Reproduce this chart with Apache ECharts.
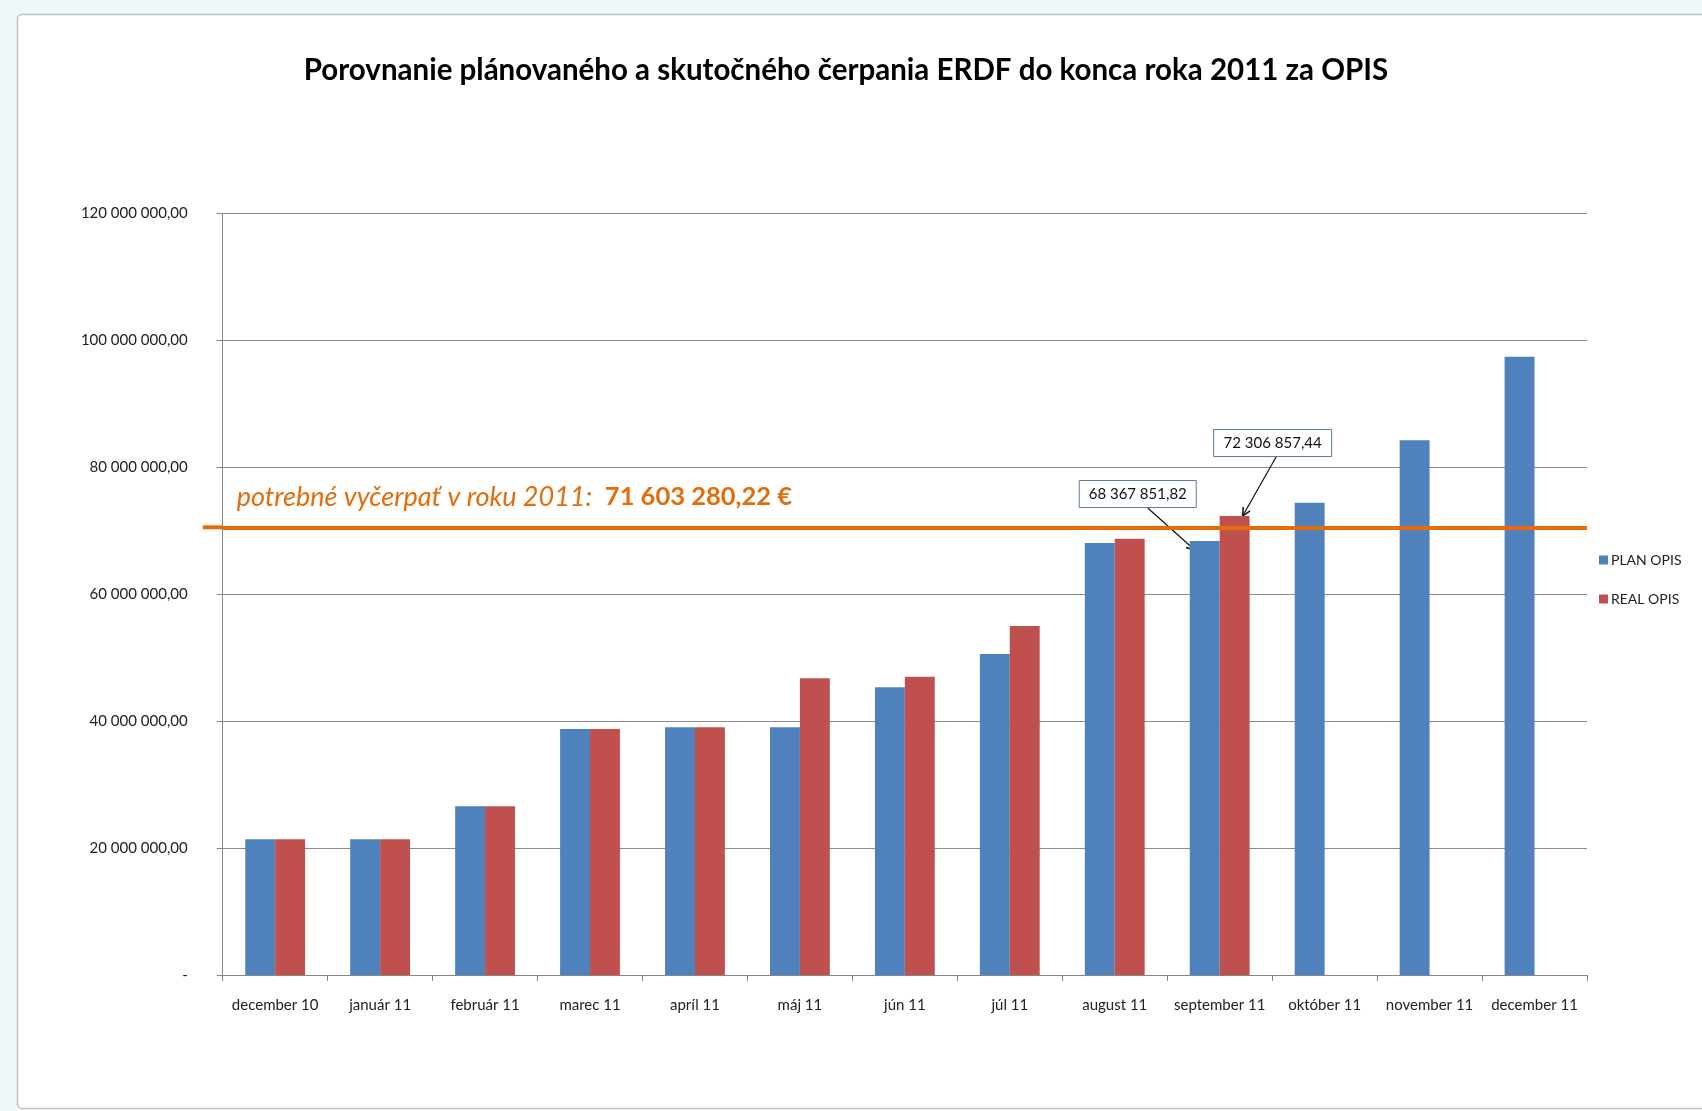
<!DOCTYPE html>
<html>
<head>
<meta charset="utf-8">
<script src="https://cdn.jsdelivr.net/npm/echarts@6/dist/echarts.min.js"></script>
<style>
html,body{margin:0;padding:0;background:#fff;}
#main{width:1702px;height:1111px;}
</style>
</head>
<body>
<div id="main"></div>
<script>
const categories = ['december 10','január 11','február 11','marec 11','apríl 11','máj 11','jún 11','júl 11','august 11','september 11','október 11','november 11','december 11'];
const planOpis = [21380000, 21380000, 26570000, 38760000, 39020000, 39020000, 45320000, 50570000, 68060000, 68367851.82, 74410000, 84240000, 97410000];
const realOpis = [21380000, 21380000, 26570000, 38760000, 39020000, 46740000, 47000000, 54980000, 68740000, 72306857.44, null, null, null];
const yTicks = [0, 20000000, 40000000, 60000000, 80000000, 100000000, 120000000];
const targetLineValue = 70530000;
const targetLabelText = 'potrebné vyčerpať v roku 2011:';
const targetLabelAmount = '71 603 280,22 €';
const calloutIndex = 9;

const FONT = 'Lato, "Noto Sans", sans-serif';

function fmt(v){
  if (v === 0) return '-';
  const parts = v.toFixed(2).split('.');
  const intPart = parts[0].replace(/\B(?=(\d{3})+(?!\d))/g, ' ');
  return intPart + ',' + parts[1];
}

const chart = echarts.init(document.getElementById('main'));
const option = {
  animation: false,
  backgroundColor: '#ffffff',
  textStyle: { fontFamily: FONT },
  title: {
    text: 'Porovnanie plánovaného a skutočného čerpania ERDF do konca roka 2011 za OPIS',
    left: 841, top: 50, textAlign: 'center',
    textStyle: { fontFamily: FONT, fontWeight: 'bold', fontSize: 29.5, color: '#000' }
  },
  legend: {
    orient: 'vertical', left: 1594, top: 548,
    itemWidth: 9, itemHeight: 9, itemGap: 25, icon: 'rect',
    textStyle: { fontFamily: FONT, fontSize: 14, color: '#222', padding: [0,0,0,-2] },
    data: ['PLAN OPIS', 'REAL OPIS']
  },
  grid: { left: 222.7, right: 115, top: 213.3, bottom: 136, containLabel: false },
  xAxis: {
    type: 'category', data: categories,
    axisLine: { lineStyle: { color: '#868686', width: 1 } },
    axisTick: { show: true, alignWithLabel: false, length: 6, lineStyle: { color: '#868686' } },
    axisLabel: { interval: 0, margin: 23, fontFamily: FONT, fontSize: 15, color: '#222' }
  },
  yAxis: {
    type: 'value', min: 0, max: 120000000, interval: 20000000,
    axisLine: { show: true, lineStyle: { color: '#868686', width: 1 } },
    axisTick: { show: true, length: 6, lineStyle: { color: '#868686' } },
    splitLine: { lineStyle: { color: '#8c8c8c', width: 1 } },
    axisLabel: { margin: 35, fontFamily: FONT, fontSize: 15, color: '#222', formatter: fmt }
  },
  series: [
    {
      name: 'PLAN OPIS', type: 'bar', data: planOpis,
      itemStyle: { color: '#4F81BD' },
      barGap: '0%', barCategoryGap: '43%',
      markLine: {
        silent: true, symbol: ['none','none'],
        lineStyle: { color: '#E46C0A', width: 4, type: 'solid' },
        label: {
          show: true, position: 'insideStartTop', distance: [14, 17],
          formatter: '{a|' + targetLabelText + '  }{b|' + targetLabelAmount + '}',
          rich: {
            a: { fontFamily: FONT, fontStyle: 'italic', fontSize: 27, color: '#E46C0A' },
            b: { fontFamily: FONT, fontWeight: 'bold', fontSize: 25.5, color: '#E46C0A' }
          }
        },
        data: [{ yAxis: targetLineValue }]
      }
    },
    {
      name: 'REAL OPIS', type: 'bar', data: realOpis,
      itemStyle: { color: '#C0504D' },
      barGap: '0%', barCategoryGap: '43%'
    }
  ]
};
chart.setOption(option);

function arrow(x1, y1, x2, y2){
  const ang = Math.atan2(y2 - y1, x2 - x1);
  const L = 9, w = 0.45;
  const p1 = [x2 - L*Math.cos(ang - w), y2 - L*Math.sin(ang - w)];
  const p2 = [x2 - L*Math.cos(ang + w), y2 - L*Math.sin(ang + w)];
  return [
    { type: 'line', shape: { x1, y1, x2, y2 }, style: { stroke: '#111', lineWidth: 1.2 }, silent: true },
    { type: 'polyline', shape: { points: [p1, [x2, y2], p2] }, style: { stroke: '#111', lineWidth: 1.5, fill: null }, silent: true }
  ];
}
function box(cx, cy, w, h, txt){
  return [
    { type: 'rect', shape: { x: cx - w/2, y: cy - h/2, width: w, height: h }, style: { fill: '#fff', stroke: '#5a7a9a', lineWidth: 1 }, silent: true, z: 100 },
    { type: 'text', x: cx, y: cy, style: { text: txt, fontFamily: FONT, fontSize: 15, fill: '#111', align: 'center', verticalAlign: 'middle' }, silent: true, z: 101 }
  ];
}

const xa = chart.convertToPixel({ xAxisIndex: 0 }, categories[0]);
const xb = chart.convertToPixel({ xAxisIndex: 0 }, categories[1]);
const band = xb - xa;
const barW = band * (1 - 0.43) / 2;
const cx = chart.convertToPixel({ xAxisIndex: 0 }, categories[calloutIndex]);
const blueX = cx - barW/2, blueY = chart.convertToPixel({ yAxisIndex: 0 }, planOpis[calloutIndex]);
const redX = cx + barW/2, redY = chart.convertToPixel({ yAxisIndex: 0 }, realOpis[calloutIndex]);
const lineY = chart.convertToPixel({ yAxisIndex: 0 }, targetLineValue);
const gridLeft = xa - band/2;

const graphics = [
  { type: 'rect', shape: { x: 0, y: 0, width: 1702, height: 14 }, style: { fill: '#eef6f9' }, silent: true, z: -10 },
  { type: 'rect', shape: { x: 0, y: 0, width: 17, height: 1111 }, style: { fill: '#eef6f9' }, silent: true, z: -10 },
  { type: 'rect', shape: { x: 17.5, y: 14.5, width: 1700, height: 1094, r: 4 }, style: { fill: null, stroke: '#b9c4ca', lineWidth: 1.5 }, silent: true, z: -5 },
  { type: 'line', shape: { x1: gridLeft - 20, y1: lineY, x2: gridLeft, y2: lineY }, style: { stroke: '#E46C0A', lineWidth: 4 }, silent: true, z: 10 }
];
graphics.push(...arrow(blueX - 57, blueY - 33, blueX - 10, blueY + 9));
graphics.push(...arrow(redX + 42, redY - 60, redX + 8, redY));
graphics.push(...box(blueX - 67, blueY - 47, 117, 27, fmt(planOpis[calloutIndex])));
graphics.push(...box(redX + 38, redY - 73, 118, 27, fmt(realOpis[calloutIndex])));
chart.setOption({ graphic: graphics });
</script>
</body>
</html>
